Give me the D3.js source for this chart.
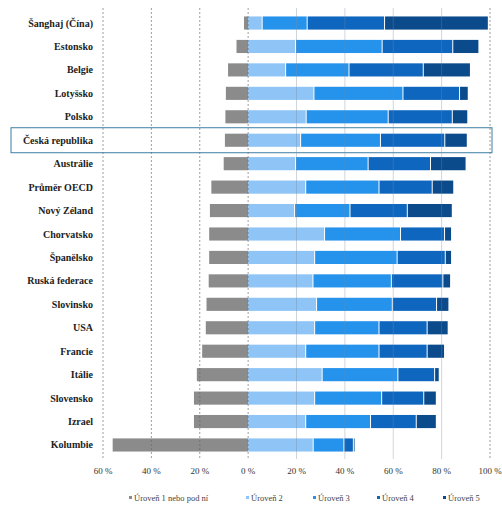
<!DOCTYPE html>
<html><head><meta charset="utf-8">
<script src="https://cdn.jsdelivr.net/npm/d3@7"></script>
<style>body{margin:0;background:#fff}svg{display:block}text{font-family:'Liberation Serif','Times New Roman','DejaVu Serif',serif}</style>
</head><body>
<svg id="c" width="502" height="511"></svg>
<script>
const categories = ["Šanghaj (Čína)","Estonsko","Belgie","Lotyšsko","Polsko","Česká republika","Austrálie","Průměr OECD","Nový Zéland","Chorvatsko","Španělsko","Ruská federace","Slovinsko","USA","Francie","Itálie","Slovensko","Izrael","Kolumbie"];
const level1 = [1.7,4.8,8.3,9.2,9.4,9.6,10.1,15.2,15.8,16.1,16.1,16.3,17.2,17.5,19.0,21.2,22.4,22.4,56.0];
const level2 = [5.6,19.4,15.3,27.0,23.8,21.5,19.4,23.6,19.0,31.4,27.3,26.6,28.1,27.3,23.6,30.4,27.3,23.6,26.7];
const level3 = [18.6,35.8,26.2,36.8,33.9,33.0,30.0,30.3,22.9,31.4,34.1,32.4,31.3,26.6,30.3,31.3,27.7,26.8,12.7];
const level4 = [32.0,29.2,30.7,23.4,26.5,26.6,25.8,22.0,23.7,18.2,19.9,21.3,18.3,19.9,19.9,15.2,17.4,18.9,3.9];
const level5 = [42.9,10.8,19.5,3.6,6.4,9.3,14.7,8.9,18.6,2.9,2.6,3.2,5.1,8.7,7.2,1.9,5.2,8.3,0.7];
const legendLabels = ["Úroveň 1 nebo pod ní","Úroveň 2","Úroveň 3","Úroveň 4","Úroveň 5"];
const tickValues = [-60,-40,-20,0,20,40,60,80,100];
const tickLabels = ["60 %","40 %","20 %","0 %","20 %","40 %","60 %","80 %","100 %"];
const highlighted = "Česká republika";

const colors = ["#8b8b8b","#8ec5f6","#2592ec","#0f66be","#0b4a8b"];
const svg = d3.select("#c");
const x = d3.scaleLinear().domain([-60,100]).range([103,490]);
const y = d3.scaleBand().domain(categories).range([11.3,456.7]).paddingInner(0.44).paddingOuter(0.22);
const pos = [level2,level3,level4,level5];

// highlight box
svg.append("rect").attr("x",11).attr("y",y(highlighted)+y.bandwidth()/2-12.5)
  .attr("width",481).attr("height",25).attr("fill","none").attr("stroke","#3d7fa3").attr("stroke-width",1);

// negative bars
svg.append("g").selectAll("rect").data(categories).join("rect")
  .attr("x",(d,i)=>x(-level1[i])).attr("y",d=>y(d))
  .attr("width",(d,i)=>x(0)-x(-level1[i])).attr("height",y.bandwidth())
  .attr("fill",colors[0]);

// positive stacked bars
categories.forEach((c,i)=>{
  let cum=0;
  pos.forEach((arr,k)=>{
    const v=arr[i];
    svg.append("rect").attr("x",x(cum)+(k>0?1:0)).attr("y",y(c))
      .attr("width",Math.max(0,x(cum+v)-x(cum)-(k>0?1:0))).attr("height",y.bandwidth())
      .attr("fill",colors[k+1]);
    cum+=v;
  });
});

// gridlines
const g = svg.append("g");
tickValues.forEach(t=>{
  g.append("line").attr("x1",x(t)).attr("x2",x(t)).attr("y1",8).attr("y2",459)
    .attr("stroke", t>0 && t<100 ? "#7a8a99" : "#666")
    .attr("stroke-opacity", t>0 && t<100 ? 0.45 : 0.8)
    .attr("stroke-width",0.8)
    .attr("stroke-dasharray", t>0 && t<100 ? null : "2,2");
});

// axis labels
svg.append("g").selectAll("text").data(tickValues).join("text")
  .attr("x",d=>x(d)).attr("y",474).attr("text-anchor","middle")
  .attr("font-size",9).attr("fill","#333")
  .text((d,i)=>tickLabels[i]);

// category labels
svg.append("g").selectAll("text").data(categories).join("text")
  .attr("x",93).attr("y",d=>y(d)+y.bandwidth()/2).attr("dy","0.35em").attr("text-anchor","end")
  .attr("font-weight","bold").attr("font-size",10).attr("fill","#222")
  .text(d=>d);

// legend
const lx = [129,246,313,377,443];
legendLabels.forEach((l,i)=>{
  svg.append("rect").attr("x",lx[i]).attr("y",496).attr("width",3).attr("height",3).attr("fill",colors[i]);
  svg.append("text").attr("x",lx[i]+5).attr("y",500.5)
    .attr("font-size",8.5).attr("fill","#444").text(l);
});
</script>
</body></html>
